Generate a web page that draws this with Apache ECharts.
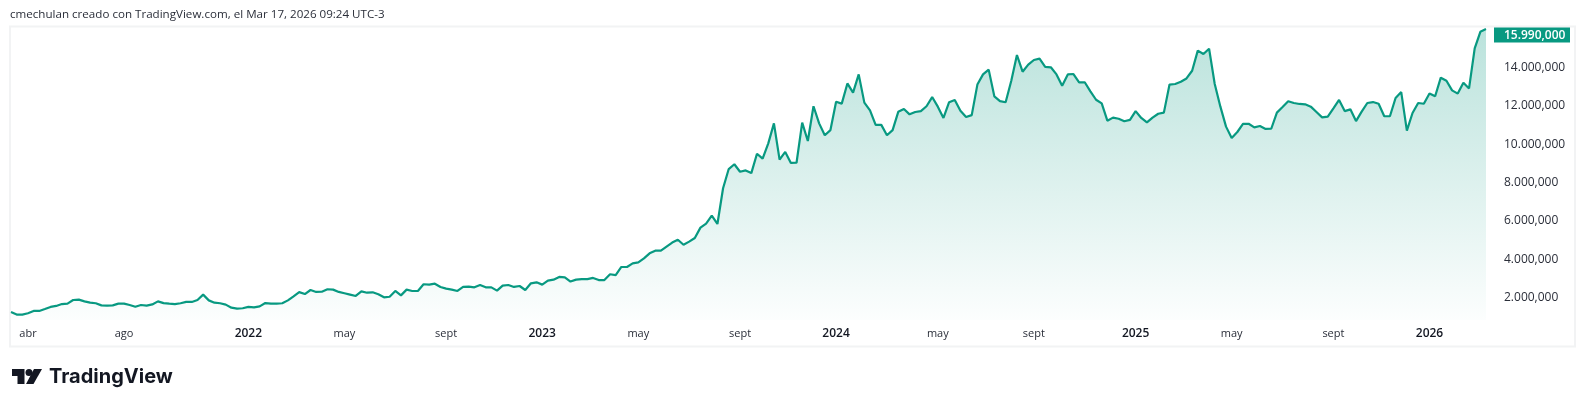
<!DOCTYPE html>
<html>
<head>
<meta charset="utf-8">
<title>TradingView</title>
<script src="https://cdn.jsdelivr.net/npm/echarts@6/dist/echarts.min.js"></script>
<style>
html, body { margin: 0; padding: 0; background: #fff; }
#main { width: 1586px; height: 407px; }
</style>
</head>
<body>
<div id="main"></div>
<script>
// weekly closes, in millions
var prices2021 = [1.25,1.12,1.12,1.19,1.31,1.31,1.41,1.52,1.57,1.67,1.69,1.88,1.90,1.81,1.74,1.71,1.60,1.59,1.60,1.69,1.69,1.62,1.53,1.62,1.59,1.65,1.81,1.72,1.69,1.67,1.71,1.78,1.78,1.88,2.16,1.86,1.74,1.71,1.64,1.48,1.43,1.45];
var prices2022 = [1.52,1.50,1.55,1.72,1.69,1.69,1.71,1.86,2.07,2.29,2.19,2.40,2.30,2.31,2.44,2.42,2.30,2.23,2.16,2.09,2.33,2.26,2.28,2.18,2.02,2.05,2.35,2.12,2.42,2.35,2.35,2.70,2.68,2.73,2.56,2.47,2.42,2.35,2.56,2.58,2.54,2.66,2.54,2.54,2.37,2.63,2.66,2.56,2.61,2.40,2.75,2.80];
var prices2023 = [2.68,2.89,2.94,3.08,3.06,2.84,2.94,2.97,2.97,3.03,2.92,2.92,3.22,3.18,3.60,3.60,3.79,3.84,4.05,4.31,4.45,4.45,4.66,4.87,5.02,4.76,4.92,5.11,5.65,5.86,6.27,5.84,7.70,8.70,8.95,8.56,8.63,8.49,9.50,9.24,10.04,11.08,9.19,9.59,9.02,9.03,11.12,10.16,11.97,11.08,10.46,10.73];
var prices2024 = [12.21,12.11,13.16,12.68,13.63,12.16,11.76,11.00,11.00,10.46,10.73,11.68,11.83,11.55,11.67,11.72,11.97,12.45,11.95,11.36,12.18,12.30,11.74,11.41,11.51,13.10,13.63,13.88,12.49,12.24,12.18,13.30,14.64,13.77,14.14,14.38,14.45,14.02,14.00,13.63,13.04,13.63,13.65,13.22,13.22,12.75,12.31,12.12,11.22,11.38,11.32,11.19,11.26];
var prices2025 = [11.72,11.36,11.13,11.38,11.58,11.64,13.10,13.13,13.25,13.42,13.82,14.87,14.69,14.97,13.13,11.95,10.91,10.32,10.63,11.05,11.06,10.87,10.94,10.79,10.80,11.64,11.93,12.23,12.14,12.09,12.07,11.95,11.67,11.39,11.43,11.86,12.30,11.72,11.81,11.20,11.69,12.14,12.19,12.10,11.45,11.45,12.40,12.71,10.70,11.62,12.14,12.10];
var prices2026 = [12.64,12.49,13.46,13.30,12.80,12.63,13.20,12.90,14.99,15.85,15.99];

var firstWeek = "2021-03-15";
var tickDates = ["2021-04-05","2021-08-02","2022-01-03","2022-05-02","2022-09-05","2023-01-02","2023-05-01","2023-09-04","2024-01-01","2024-05-06","2024-09-02","2025-01-06","2025-05-05","2025-09-08","2026-01-05"];
var tickTexts = ["abr","ago","2022","may","sept","2023","may","sept","2024","may","sept","2025","may","sept","2026"];
var priceTicks = [2000000,4000000,6000000,8000000,10000000,12000000,14000000];

var prices = [].concat(prices2021, prices2022, prices2023, prices2024, prices2025, prices2026).map(function (p) {
    return Math.round(p * 1e6);
});

var weeks = [];
for (var i = 0; i < prices.length; i++) {
    weeks.push(new Date(Date.parse(firstWeek) + i * 7 * 86400000).toISOString().slice(0, 10));
}

function priceText(v) {
    var m = Math.floor(v / 1e6);
    var k = Math.round((v - m * 1e6) / 1e3);
    return m + "." + ("00" + k).slice(-3) + ",000";
}

var FONT = '"Open Sans", sans-serif';
var TEAL = "#089981";

var chart = echarts.init(document.getElementById("main"), null, { renderer: "canvas" });

chart.setOption({
    animation: false,
    backgroundColor: "#fff",
    grid: { left: 11, right: 100, top: 27, height: 293 },
    xAxis: {
        type: "category",
        data: weeks,
        boundaryGap: false,
        axisLine: { show: false },
        axisTick: { show: false },
        splitLine: { show: false },
        axisLabel: {
            margin: 8,
            fontFamily: FONT,
            fontSize: 11,
            color: "#2a2e39",
            hideOverlap: false,
            interval: function (idx, value) {
                return tickDates.indexOf(value) >= 0;
            },
            formatter: function (value) {
                var t = tickTexts[tickDates.indexOf(value)];
                return /^\d+$/.test(t) ? "{year|" + t + "}" : t;
            },
            rich: {
                year: { fontFamily: FONT, fontSize: 12, fontWeight: 600, color: "#131722" }
            }
        }
    },
    yAxis: {
        type: "value",
        position: "right",
        min: 838500,
        max: 16099000,
        axisLine: { show: false },
        axisTick: { show: false },
        splitLine: { show: false },
        axisLabel: {
            margin: 18,
            fontFamily: FONT,
            fontSize: 12,
            color: "#2a2e39",
            customValues: priceTicks,
            formatter: priceText
        }
    },
    series: [{
        type: "line",
        data: prices,
        symbol: "none",
        smooth: false,
        lineStyle: { color: TEAL, width: 2.2 },
        itemStyle: { color: TEAL },
        areaStyle: {
            origin: "start",
            opacity: 1,
            color: new echarts.graphic.LinearGradient(0, 0, 0, 1, [
                { offset: 0, color: "rgba(8,153,129,0.28)" },
                { offset: 1, color: "rgba(8,153,129,0.01)" }
            ])
        },
        endLabel: {
            show: true,
            distance: 8,
            offset: [0, 6],
            fontFamily: FONT,
            fontSize: 12,
            fontWeight: 600,
            color: "#fff",
            backgroundColor: TEAL,
            padding: [2, 7, 1, 10],
            width: 59,
            overflow: "none",
            formatter: function (p) {
                return priceText(p.value);
            }
        }
    }],
    graphic: [
        { type: "rect", silent: true, z: -1, shape: { x: 10, y: 26.5, width: 1565, height: 320 },
          style: { fill: "none", stroke: "#f2f3f4", lineWidth: 2 } },
        { type: "text", silent: true, x: 10, y: 15,
          style: { text: "cmechulan creado con TradingView.com, el Mar 17, 2026 09:24 UTC-3",
                   font: "11.6px " + FONT, fill: "#2a2e39", textVerticalAlign: "middle" } },
        { type: "polygon", silent: true, shape: { points: [[12,369],[24.5,369],[24.5,384],[17.5,384],[17.5,376],[12,376]] },
          style: { fill: "#131722" } },
        { type: "circle", silent: true, shape: { cx: 29, cy: 372.5, r: 3.5 }, style: { fill: "#131722" } },
        { type: "polygon", silent: true, shape: { points: [[34,369],[42,369],[33.5,384],[26,384]] },
          style: { fill: "#131722" } },
        { type: "text", silent: true, x: 49, y: 376.5,
          style: { text: "TradingView", font: '700 20px "Inter", sans-serif', fill: "#131722", textVerticalAlign: "middle" } }
    ]
});
</script>
</body>
</html>
